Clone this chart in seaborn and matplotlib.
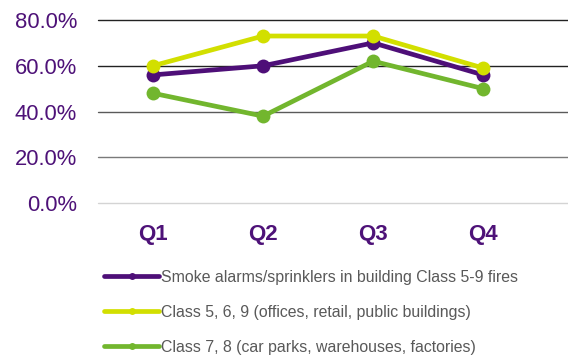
import numpy as np
import pandas as pd
import seaborn as sns
import matplotlib.pyplot as plt
from matplotlib.ticker import FuncFormatter

quarters = ['Q1', 'Q2', 'Q3', 'Q4']
series_names = [
    'Smoke alarms/sprinklers in building Class 5-9 fires',
    'Class 5, 6, 9 (offices, retail, public buildings)',
    'Class 7, 8 (car parks, warehouses, factories)',
]
all_fires = [56, 60, 70, 56]
class_569 = [60, 73, 73, 59]
class_78 = [48, 38, 62, 50]
colors = ['#4e0f78', '#d2df00', '#72b62e']

df = pd.DataFrame({
    'quarter': quarters * 3,
    'pct': all_fires + class_569 + class_78,
    'series': np.repeat(series_names, 4),
})

sns.set_style('white')
plt.rcParams['font.family'] = ['Liberation Sans', 'DejaVu Sans']

fig = plt.figure(figsize=(5.68, 3.57), dpi=100)
ax = fig.add_axes([0.1725, 0.431, 0.8275, 0.513])

sns.lineplot(data=df, x='quarter', y='pct', hue='series', hue_order=series_names,
             palette=colors, marker='o', markersize=10, markeredgewidth=0,
             linewidth=3.4, ax=ax, legend=True)

ax.set_xlim(-0.5, 3.77)
ax.set_ylim(0, 80)
ax.set_yticks([0, 20, 40, 60, 80])
ax.yaxis.set_major_formatter(FuncFormatter(lambda v, p: f'{v:.1f}%'))
grid_cols = {0: '#d4d4d4', 20: '#7a7a7a', 40: '#5a5a5a', 60: '#222222', 80: '#222222'}
for v, c in grid_cols.items():
    ax.axhline(v, color=c, lw=1.0, zorder=0, clip_on=False)
for s in ax.spines.values():
    s.set_visible(False)
ax.set_xlabel('')
ax.set_ylabel('')
ax.tick_params(axis='y', labelsize=15.8, labelcolor='#4e1278', length=0, pad=15)
ax.tick_params(axis='x', labelsize=16, labelcolor='#4e1278', length=0, pad=15)
for t in ax.get_xticklabels():
    t.set_fontweight('bold')

handles, labels = ax.get_legend_handles_labels()
ax.get_legend().remove()
leg = fig.legend(handles, labels, loc='upper left', bbox_to_anchor=(0.172, 0.262),
                 frameon=False, fontsize=11.4, labelspacing=1.26, handlelength=3.5,
                 handletextpad=0.1, borderaxespad=0)
for line in leg.get_lines():
    line.set_markersize(5)
    line.set_linewidth(3.4)
for t in leg.get_texts():
    t.set_color('#595959')

fig.savefig('out.png', dpi=100)
